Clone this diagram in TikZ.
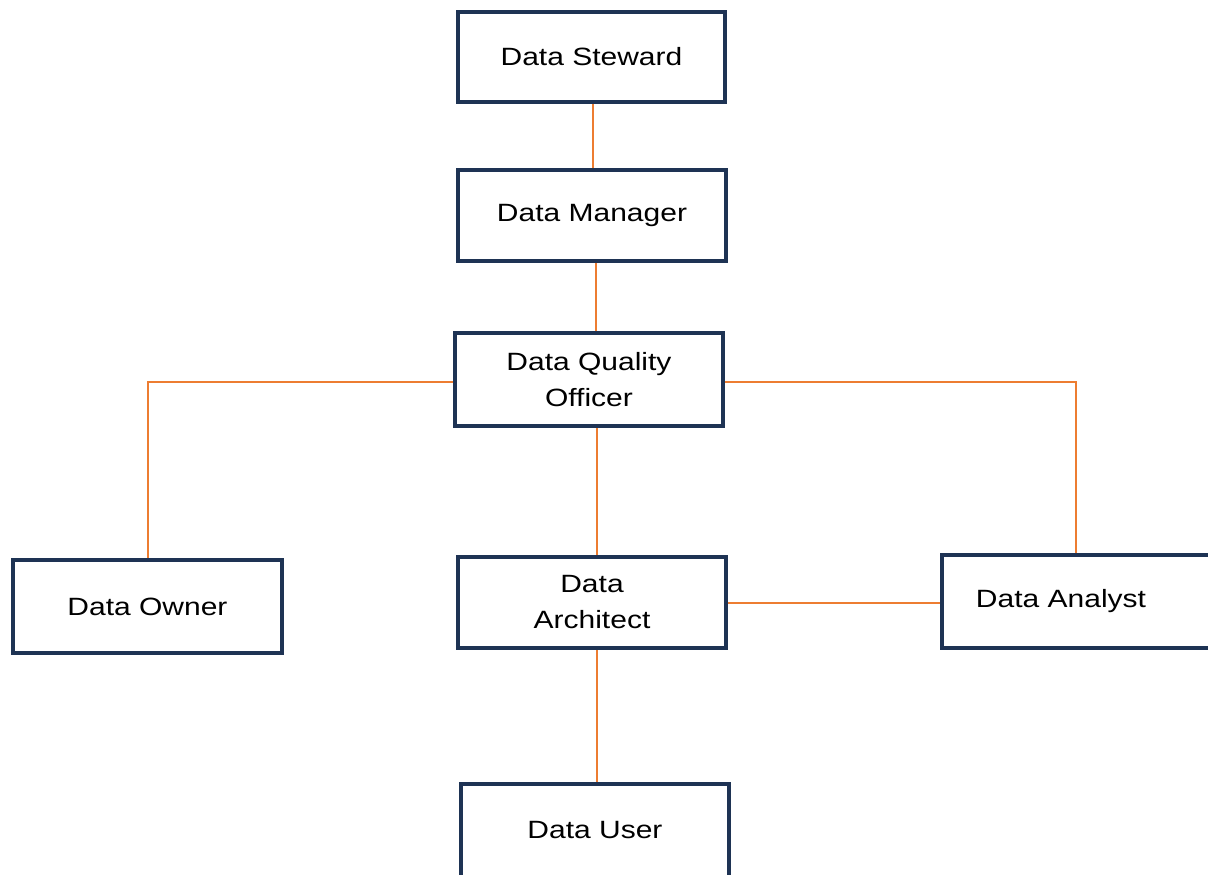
\documentclass[tikz,border=0pt]{standalone}
\usepackage{fontspec}
\setmainfont{Liberation Sans}[FakeStretch=1.2]
\definecolor{boxline}{HTML}{1E3354}
\definecolor{conn}{HTML}{ED7D31}
\begin{document}
\begin{tikzpicture}[x=1pt,y=-1pt,
  rolebox/.style={draw=boxline,line width=4pt,fill=white,minimum width=268pt,minimum height=92pt,inner sep=0pt,align=center,font=\fontsize{25}{36}\selectfont},
  link/.style={draw=conn,line width=2pt},
  lbl/.style={font=\fontsize{25}{36}\selectfont,inner sep=0pt}]
\clip (0,0) rectangle (1208,875);
\fill[white] (0,0) rectangle (1208,875);
\node[rolebox,minimum width=267pt,minimum height=90pt] (steward) at (591.5,57) {Data Steward};
\node[rolebox,minimum height=91pt] (manager) at (592,215.5) {Data Manager};
\node[rolebox,minimum height=93pt] (dqo) at (589,379.5) {Data Quality\\ Officer};
\node[rolebox,minimum width=269pt,minimum height=93pt] (owner) at (147.5,606.5) {Data Owner};
\node[rolebox,minimum height=91pt] (architect) at (592,602.5) {Data\\Architect};
\node[rolebox,minimum height=93pt] (analyst) at (1076,601.5) {};
\node[lbl] (analysttext) at (1061,601) {Data Analyst};
\node[rolebox,minimum height=93pt] (user) at (595,830.5) {Data User};
\draw[link] ([xshift=1.5pt]steward.south) -- ([xshift=1.5pt]steward.south |- manager.north);
\draw[link] ([xshift=4pt]manager.south) -- ([xshift=4pt]manager.south |- dqo.north);
\draw[link] ([yshift=-2pt]dqo.west) -| (owner.north);
\draw[link] ([yshift=-2pt]dqo.east) -| (analyst.north);
\draw[link] ([xshift=8pt]dqo.south) -- ([xshift=8pt]dqo.south |- architect.north);
\draw[link] (architect.east) -- (architect.east -| analyst.west);
\draw[link] ([xshift=5pt]architect.south) -- ([xshift=5pt]architect.south |- user.north);
\end{tikzpicture}
\end{document}
